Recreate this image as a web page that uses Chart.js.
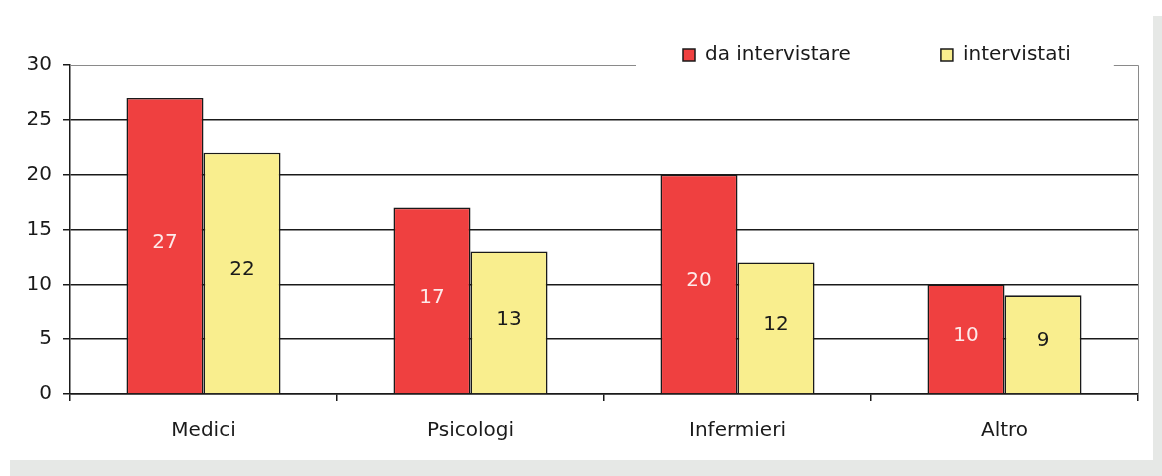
<!DOCTYPE html>
<html lang="it">
<head>
  <meta charset="UTF-8" />
  <title>Medici, Psicologi, Infermieri, Altro</title>
  <script src="https://cdn.jsdelivr.net/npm/chart.js"></script>
  <style>
    html, body { margin: 0; padding: 0; background: #fff; }
    .shadow { position: absolute; left: 10px; top: 16px; width: 1152px; height: 460px; background: #e6e8e6; }
    .box { position: absolute; left: 0; top: 0; width: 1153px; height: 460px; background: #fff; }
  </style>
</head>
<body>
  <div class="shadow"></div>
  <div class="box"><canvas id="chart"></canvas></div>

  <script>
    // data
    const categories = ['Medici', 'Psicologi', 'Infermieri', 'Altro'];
    const daIntervistare = [27, 17, 20, 10];
    const intervistati = [22, 13, 12, 9];
    const yTicks = [0, 5, 10, 15, 20, 25, 30];

    const FONT = { family: '"DejaVu Sans", sans-serif', size: 20 };
    const INK = '#1a1a1a';

    // numbers inside the bars
    const valueLabels = {
      id: 'valueLabels',
      afterDatasetsDraw(chart) {
        const ctx = chart.ctx;
        ctx.save();
        ctx.font = FONT.size + 'px ' + FONT.family;
        ctx.textAlign = 'center';
        ctx.textBaseline = 'middle';
        chart.data.datasets.forEach((ds, i) => {
          chart.getDatasetMeta(i).data.forEach((bar, j) => {
            ctx.fillStyle = ds.labelColor;
            ctx.fillText(ds.data[j], bar.x, (bar.y + bar.base) / 2 - 3);
          });
        });
        ctx.restore();
      }
    };

    // legend sitting on the top border, and the grey frame with a gap for it
    const frameLegend = {
      id: 'frameLegend',
      afterDraw(chart) {
        const ctx = chart.ctx;
        const area = chart.chartArea;
        const y = 55;
        let x = 683;
        const startX = x;
        ctx.save();
        ctx.font = FONT.size + 'px ' + FONT.family;
        ctx.textBaseline = 'middle';
        chart.data.datasets.forEach((ds, i) => {
          if (i > 0) x += 90;
          ctx.fillStyle = ds.backgroundColor;
          ctx.strokeStyle = INK;
          ctx.lineWidth = 1.5;
          ctx.fillRect(x, y - 6, 12, 12);
          ctx.strokeRect(x, y - 6, 12, 12);
          x += 22;
          ctx.fillStyle = INK;
          ctx.fillText(ds.label, x, y);
          x += ctx.measureText(ds.label).width;
        });
        const endX = x;

        ctx.strokeStyle = '#8a8a8a';
        ctx.lineWidth = 1;
        ctx.beginPath();
        ctx.moveTo(area.left, area.top + 0.5);
        ctx.lineTo(startX - 47, area.top + 0.5);
        ctx.moveTo(endX + 43, area.top + 0.5);
        ctx.lineTo(area.right + 0.5, area.top + 0.5);
        ctx.lineTo(area.right + 0.5, area.bottom);
        ctx.stroke();
        ctx.restore();
      }
    };

    new Chart(document.getElementById('chart'), {
      type: 'bar',
      data: {
        labels: categories,
        datasets: [
          {
            label: 'da intervistare',
            data: daIntervistare,
            backgroundColor: '#ef4040',
            borderColor: INK,
            borderWidth: 1.6,
            labelColor: '#fdeaea'
          },
          {
            label: 'intervistati',
            data: intervistati,
            backgroundColor: '#f9ee8e',
            borderColor: INK,
            borderWidth: 1.6,
            labelColor: INK
          }
        ]
      },
      options: {
        responsive: true,
        maintainAspectRatio: false,
        animation: false,
        layout: { padding: { top: 65, right: 15, left: 0, bottom: 0 } },
        datasets: { bar: { categoryPercentage: 0.577, barPercentage: 1 } },
        plugins: {
          legend: { display: false },
          tooltip: { enabled: false }
        },
        scales: {
          x: {
            afterFit: s => { s.height = 66; },
            grid: { drawOnChartArea: false, offset: true, tickLength: 7, color: INK, lineWidth: 1.5 },
            border: { color: INK, width: 1.5 },
            ticks: { color: INK, font: FONT, padding: 18 }
          },
          y: {
            min: 0,
            max: 30,
            afterFit: s => { s.width = 70; },
            afterBuildTicks: s => { s.ticks = yTicks.map(v => ({ value: v })); },
            grid: {
              tickLength: 7,
              lineWidth: 1.5,
              color: c => (c.tick && c.tick.value === 30 ? 'rgba(0,0,0,0)' : INK),
              tickColor: INK
            },
            border: { color: INK, width: 1.5 },
            ticks: { color: INK, font: FONT, padding: 11 }
          }
        }
      },
      plugins: [valueLabels, frameLegend]
    });
  </script>
</body>
</html>
